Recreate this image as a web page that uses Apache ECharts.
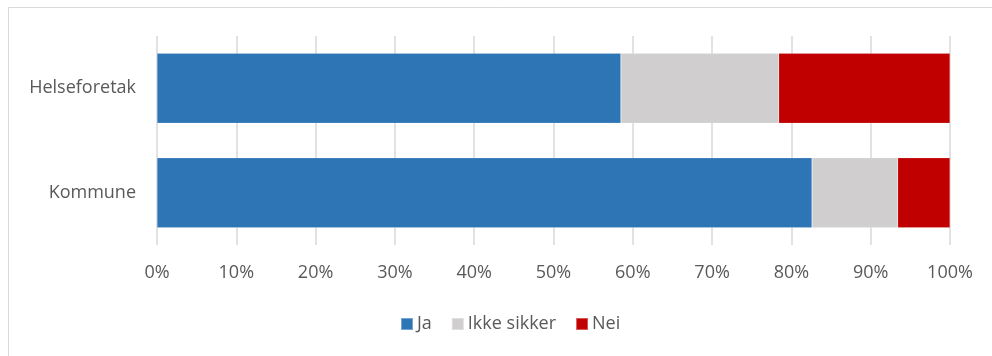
<!DOCTYPE html>
<html>
<head>
<meta charset="utf-8">
<script src="https://cdn.jsdelivr.net/npm/echarts@6/dist/echarts.min.js"></script>
<style>
html,body{margin:0;padding:0;background:#fff;}
#chart{width:992px;height:356px;}
</style>
</head>
<body>
<div id="chart"></div>
<script>
const categories = ['Helseforetak', 'Kommune'];
const seriesNames = ['Ja', 'Ikke sikker', 'Nei'];
const jaValues = [58.5, 82.6];
const ikkeSikkerValues = [19.9, 10.8];
const neiValues = [21.6, 6.6];
const xTicks = [0, 10, 20, 30, 40, 50, 60, 70, 80, 90, 100];
const colors = ['#2E75B6', '#D0CECE', '#C00000'];

const font = '"Open Sans", "Liberation Sans", sans-serif';
const chart = echarts.init(document.getElementById('chart'), null, {renderer: 'canvas'});
const dataSets = [jaValues, ikkeSikkerValues, neiValues];

chart.setOption({
  animation: false,
  textStyle: {fontFamily: font},
  graphic: [{
    type: 'rect',
    shape: {x: 8.5, y: 7.5, width: 990, height: 360},
    style: {fill: 'none', stroke: '#D9D9D9', lineWidth: 1}
  }],
  grid: {left: 157, right: 42, top: 36, bottom: 111, containLabel: false},
  legend: {
    data: seriesNames,
    bottom: 18,
    left: 395,
    itemWidth: 12,
    itemHeight: 12,
    itemGap: 19,
    icon: 'rect',
    textStyle: {color: '#595959', fontSize: 18, fontFamily: font, padding: [0, 0, 0, -1]}
  },
  xAxis: {
    type: 'value',
    min: xTicks[0],
    max: xTicks[xTicks.length - 1],
    interval: 10,
    axisLine: {show: false},
    axisTick: {show: false},
    splitLine: {show: true, lineStyle: {color: '#D9D9D9', width: 1.5}},
    axisLabel: {color: '#595959', fontSize: 18, margin: 19, formatter: v => v + '%'}
  },
  yAxis: {
    type: 'category',
    data: categories,
    inverse: true,
    axisLine: {show: false},
    axisTick: {show: false},
    axisLabel: {color: '#595959', fontSize: 18, margin: 21}
  },
  series: seriesNames.map((name, i) => ({
    name: name,
    type: 'bar',
    stack: 'total',
    barWidth: '67%',
    data: dataSets[i],
    itemStyle: {color: colors[i], borderColor: 'rgba(255,255,255,0.35)', borderWidth: 0.5}
  }))
});
</script>
</body>
</html>
